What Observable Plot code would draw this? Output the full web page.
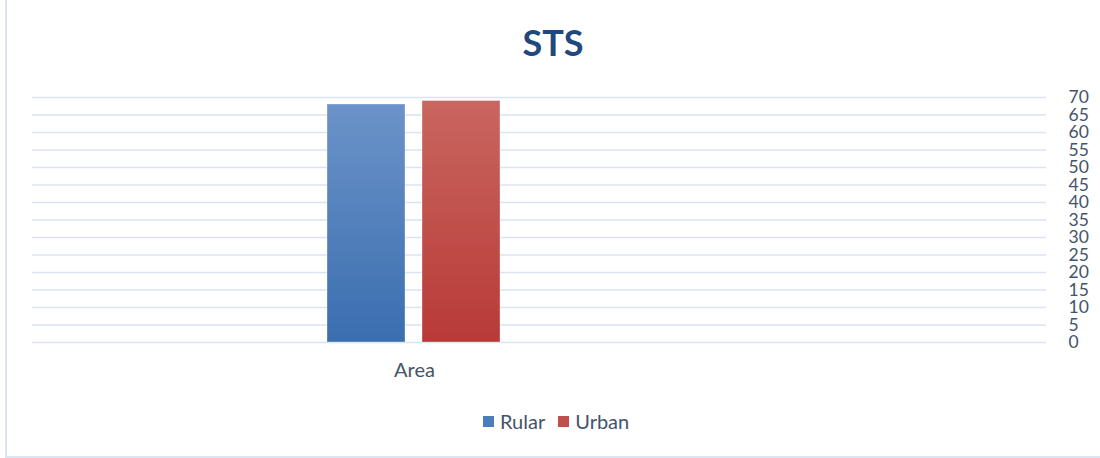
<!DOCTYPE html>
<html>
<head>
<meta charset="utf-8">
<script src="https://cdn.jsdelivr.net/npm/d3@7"></script>
<script src="https://cdn.jsdelivr.net/npm/@observablehq/plot@0.6"></script>
<style>
  html, body { margin: 0; padding: 0; background: #fff; }
  body { width: 1100px; height: 458px; position: relative; overflow: hidden; font-family: Lato, "Open Sans", sans-serif; }
  #frame { position: absolute; left: 5px; top: -4px; width: 1300px; height: 462px; border-left: 2px solid #dce6f2; border-bottom: 2px solid #dce6f2; box-sizing: border-box; }
  #title { position: absolute; left: 453px; width: 200px; top: 20px; text-align: center; font-size: 36px; font-weight: 700; color: #1f497d; line-height: 44px; }
  #chart { position: absolute; left: 0; top: 80px; }
  #legend { position: absolute; left: 483px; top: 409px; display: flex; align-items: center; font-size: 20px; color: #44546a; line-height: 24px; }
  #legend .sw { width: 11px; height: 11px; display: inline-block; margin-right: 6px; }
  #legend .item { display: flex; align-items: center; margin-right: 13px; }
</style>
</head>
<body>
<div id="frame"></div>
<div id="title">STS</div>
<div id="chart"></div>
<div id="legend"></div>
<script>
const categories = ["Area"];
const series = ["Rular", "Urban"];
const values = [68, 69];
const yTicks = [0, 5, 10, 15, 20, 25, 30, 35, 40, 45, 50, 55, 60, 65, 70];
const seriesColors = ["#4a7ebb", "#c0504d"];
const gradTop = ["#6c93c9", "#c9665f"];
const gradBottom = ["#3a6eaf", "#b83a37"];

const data = series.map((s, i) => ({ category: categories[0], series: s, value: values[i] }));
const gradIds = series.map((s, i) => "grad" + i);

const plot = Plot.plot({
  width: 1100,
  height: 310,
  marginTop: 17,
  marginBottom: 48,
  marginLeft: 32,
  marginRight: 54,
  style: { fontFamily: "Lato, 'Open Sans', sans-serif", background: "transparent", overflow: "visible" },
  x: { type: "band", domain: series, range: [326, 501], paddingInner: 0.177, paddingOuter: 0, axis: null },
  y: { domain: [0, 70], axis: null },
  color: { domain: series, range: gradIds.map(id => `url(#${id})`) },
  marks: [
    Plot.ruleY(yTicks, { stroke: "#d9e4f2", strokeWidth: 1.6 }),
    Plot.barY(data, { x: "series", y: "value", fill: "series", stroke: "#ffffff", strokeOpacity: 0.35, strokeWidth: 1 }),
    Plot.axisY(yTicks, { anchor: "right", label: null, tickSize: 0, tickPadding: 22, textAnchor: "start", fontSize: 17.5, fill: "#44546a", color: "#44546a" }),
    Plot.text(categories, { x: () => series[0], text: d => d, frameAnchor: "bottom", dx: 48, dy: 28, lineAnchor: "middle", textAnchor: "middle", fontSize: 20, fill: "#44546a" })
  ]
});

const svg = d3.select(plot);
const defs = svg.insert("defs", ":first-child");
gradIds.forEach((id, i) => {
  const g = defs.append("linearGradient").attr("id", id).attr("x1", 0).attr("y1", 0).attr("x2", 0).attr("y2", 1);
  g.append("stop").attr("offset", "0%").attr("stop-color", gradTop[i]);
  g.append("stop").attr("offset", "100%").attr("stop-color", gradBottom[i]);
});
document.getElementById("chart").appendChild(plot);

const legend = d3.select("#legend");
series.forEach((s, i) => {
  const item = legend.append("div").attr("class", "item");
  item.append("span").attr("class", "sw").style("background", seriesColors[i]);
  item.append("span").text(s);
});
</script>
</body>
</html>
